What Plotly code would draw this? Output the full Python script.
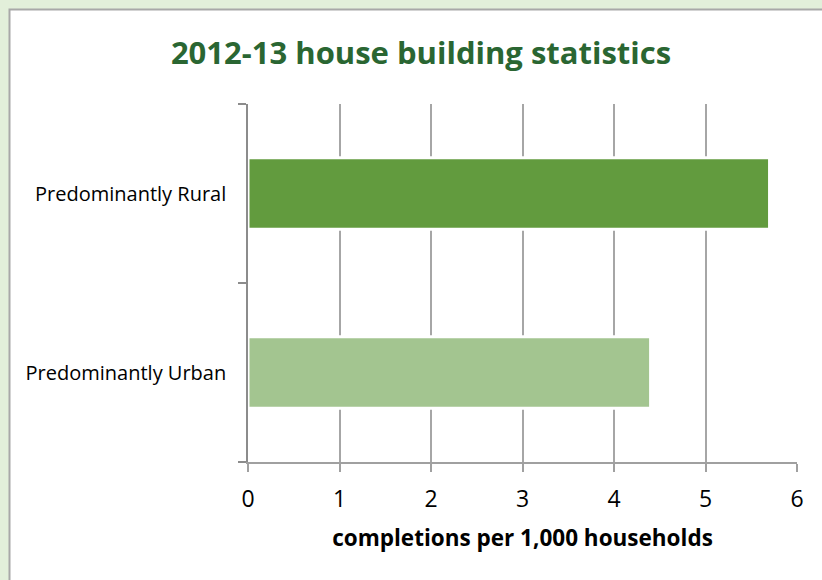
import plotly.graph_objects as go

# Completions per 1,000 households, 2012-13
categories = ["Predominantly Urban", "Predominantly Rural"]
completions = [4.4, 5.7]
bar_colors = ["#A3C590", "#629B3E"]
x_ticks = [0, 1, 2, 3, 4, 5, 6]

W, H = 822, 580
L, R, T, B = 248, 25, 104, 118
plot_w = W - L - R
plot_h = H - T - B


def px_to_paper_x(px):
    return (px - L) / plot_w


def px_to_paper_y(py):
    return (H - B - py) / plot_h


FONT = "Open Sans"

fig = go.Figure(
    go.Bar(
        y=categories,
        x=completions,
        orientation="h",
        marker=dict(color=bar_colors, line=dict(color="white", width=3)),
        width=0.4,
        hoverinfo="x+y",
    )
)

# white chart panel with a grey border on the pale green page
fig.add_shape(
    type="rect",
    xref="paper", yref="paper",
    x0=px_to_paper_x(9.5), x1=px_to_paper_x(840),
    y0=px_to_paper_y(600), y1=px_to_paper_y(9.5),
    fillcolor="white",
    line=dict(color="#A8A8A8", width=2),
    layer="below",
)

fig.update_layout(
    width=W, height=H,
    margin=dict(l=L, r=R, t=T, b=B),
    paper_bgcolor="#E2EFDA",
    plot_bgcolor="rgba(0,0,0,0)",
    showlegend=False,
    font=dict(family=FONT, color="#000000", size=20),
    title=dict(
        text="<b>2012-13 house building statistics</b>",
        font=dict(family=FONT, size=31, color="#2A6632"),
        xref="container", x=421 / W, xanchor="center",
        yref="container", y=1 - 53 / H, yanchor="middle",
    ),
    bargap=0.6,
)

fig.update_xaxes(
    range=[0, 6],
    tickvals=x_ticks,
    ticktext=[str(v) for v in x_ticks],
    showgrid=True, gridcolor="#A6A6A6", gridwidth=1.5,
    zeroline=False,
    showline=True, linecolor="#A0A0A0", linewidth=1.5,
    ticks="outside", ticklen=8, tickcolor="#A0A0A0", tickwidth=1.5,
    ticklabelstandoff=8,
    tickfont=dict(size=23, family=FONT),
    title=dict(text="<b>completions per 1,000 households</b>",
               font=dict(size=22.5, family=FONT), standoff=17),
)

fig.update_yaxes(
    type="category",
    categoryorder="array", categoryarray=categories,
    range=[-0.5, 1.5],
    showgrid=False,
    showline=True, linecolor="#8C8C8C", linewidth=1.5,
    ticks="outside", ticklen=8, tickcolor="#8C8C8C", tickwidth=1.5,
    tickson="boundaries",
    ticklabelstandoff=16,
    tickfont=dict(size=20, family=FONT),
)

fig.write_html("out.html")
